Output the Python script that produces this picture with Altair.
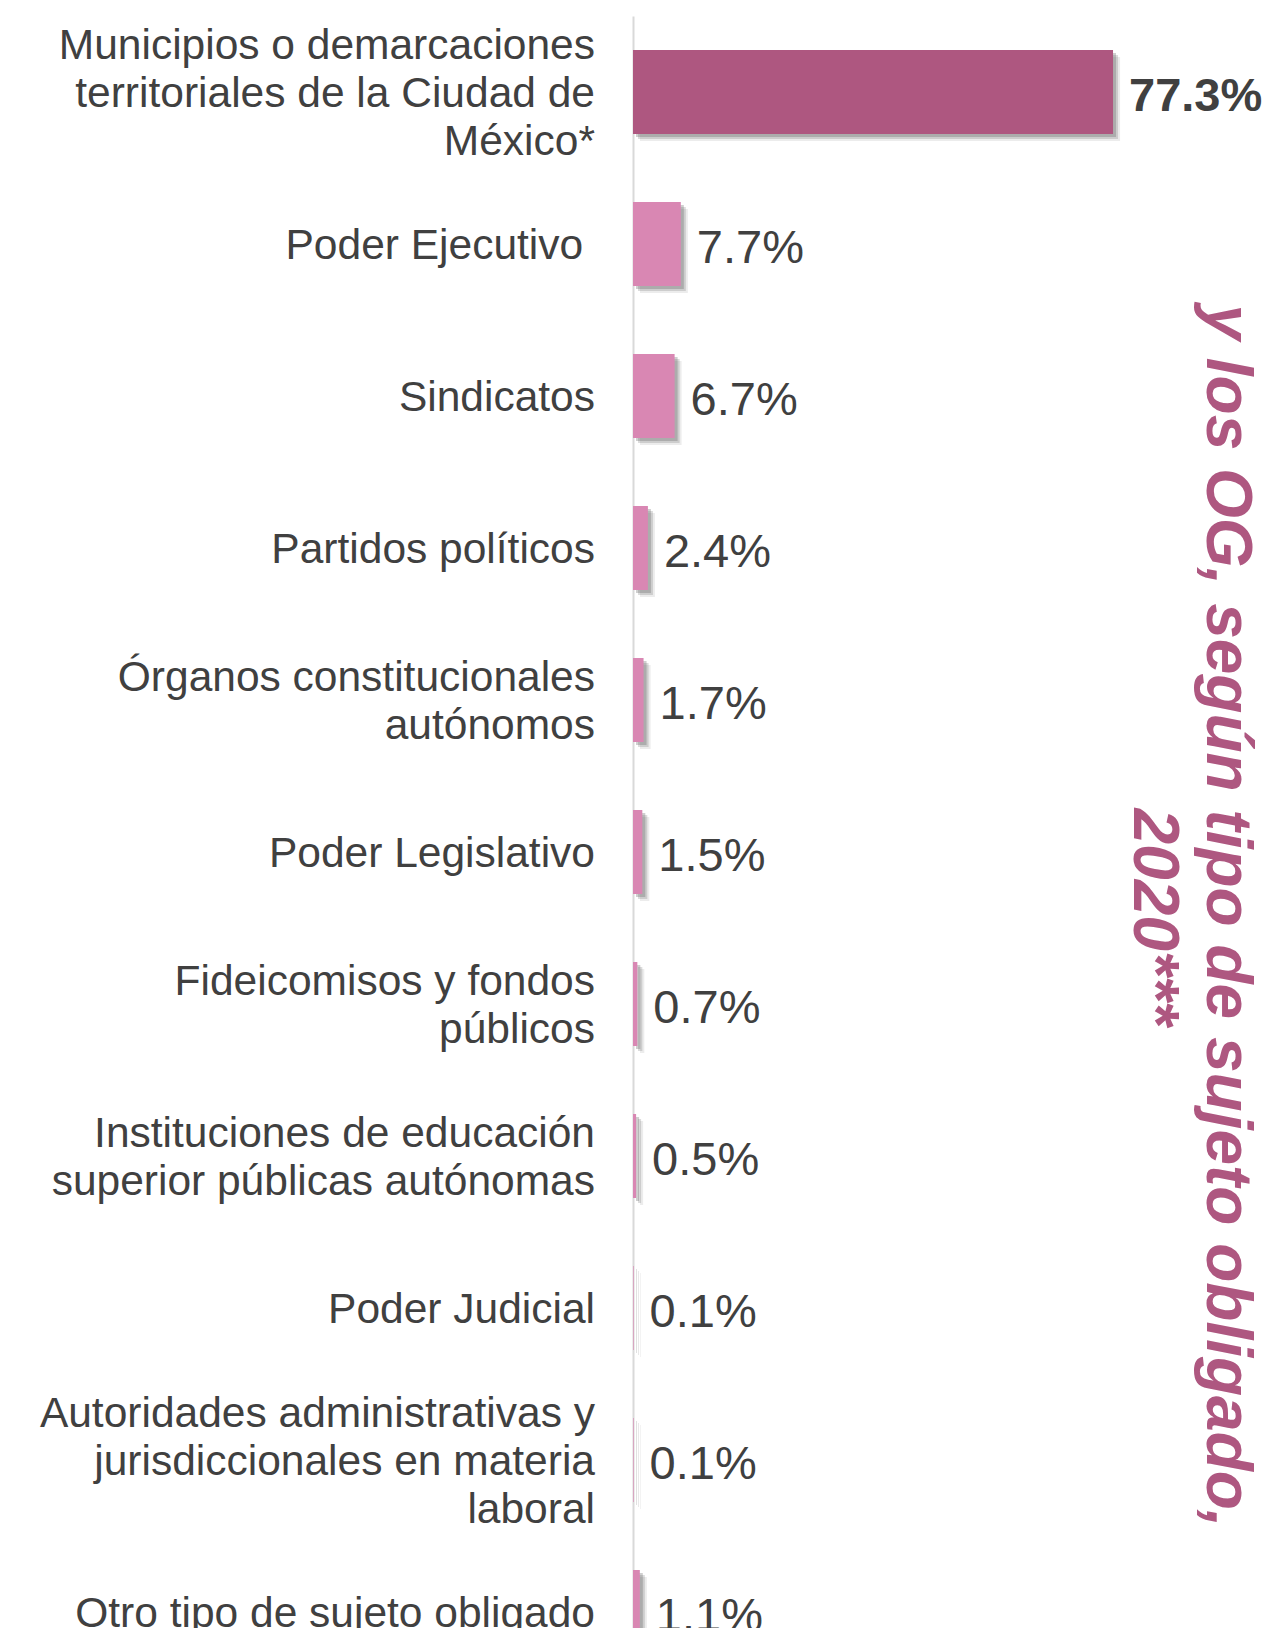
import altair as alt
import pandas as pd

categories = [
    "Municipios o demarcaciones|territoriales de la Ciudad de|México*",
    "Poder Ejecutivo\u00a0\u200b",
    "Sindicatos",
    "Partidos políticos",
    "Órganos constitucionales|autónomos",
    "Poder Legislativo",
    "Fideicomisos y fondos|públicos",
    "Instituciones de educación|superior públicas autónomas",
    "Poder Judicial",
    "Autoridades administrativas y|jurisdiccionales en materia|laboral",
    "Otro tipo de sujeto obligado",
]
values = [77.3, 7.7, 6.7, 2.4, 1.7, 1.5, 0.7, 0.5, 0.1, 0.1, 1.1]
highlight = [True, False, False, False, False, False, False, False, False, False, False]
title_lines = ["y los OG, según tipo de sujeto obligado,", "2020***"]

DARK = "#AE5780"
LIGHT = "#D987B3"
TEXT = "#404040"
FONT = "Liberation Sans"
LH = 48

df = pd.DataFrame({"cat": categories, "value": values, "hl": highlight})

y_enc = alt.Y(
    "cat:N",
    sort=categories,
    scale=alt.Scale(range=[0, 1672], paddingInner=0.447, paddingOuter=0.2235),
    axis=alt.Axis(
        title=None,
        labels=False,
        ticks=False,
        grid=False,
        domain=True,
        domainColor="#D9D9D9",
        domainWidth=2,
    ),
)
x_enc = alt.X("value:Q", scale=alt.Scale(domain=[0, 100]), axis=None)

base = alt.Chart(df)

shadow1 = base.mark_bar(color="#606060", opacity=0.12, xOffset=7, yOffset=7).encode(x=x_enc, y=y_enc)
shadow2 = base.mark_bar(color="#606060", opacity=0.22, xOffset=5, yOffset=5).encode(x=x_enc, y=y_enc)
shadow3 = base.mark_bar(color="#606060", opacity=0.3, xOffset=3, yOffset=3).encode(x=x_enc, y=y_enc)

bars = base.mark_bar().encode(
    x=x_enc,
    y=y_enc,
    color=alt.condition("datum.hl", alt.value(DARK), alt.value(LIGHT)),
)

labels_norm = base.transform_filter("!datum.hl").transform_calculate(
    lab="format(datum.value, '.1f') + '%'"
).mark_text(
    align="left", baseline="middle", dx=16, dy=5, font=FONT, fontSize=47, color=TEXT
).encode(x=x_enc, y=y_enc, text="lab:N")

labels_bold = base.transform_filter("datum.hl").transform_calculate(
    lab="format(datum.value, '.1f') + '%'"
).mark_text(
    align="left", baseline="middle", dx=16, dy=5, font=FONT, fontSize=47,
    fontWeight="bold", color=TEXT
).encode(x=x_enc, y=y_enc, text="lab:N")


def cat_labels(n):
    return base.transform_calculate(
        lines="split(datum.cat, '|')"
    ).transform_calculate(
        n="length(datum.lines)"
    ).transform_filter(f"datum.n == {n}").mark_text(
        align="right", baseline="middle", font=FONT, fontSize=42.5, color=TEXT,
        lineHeight=LH, dy=2 - (n - 1) * LH / 2
    ).encode(x=alt.value(-38), y=y_enc, text="lines:N")


t1 = alt.Chart(pd.DataFrame({"t": [title_lines[0]]})).mark_text(
    angle=90, align="center", baseline="alphabetic", font=FONT, fontSize=64,
    fontWeight="bold", fontStyle="italic", color=DARK
).encode(x=alt.value(574), y=alt.value(900), text="t:N")

t2 = alt.Chart(pd.DataFrame({"t": [title_lines[1]]})).mark_text(
    angle=90, align="center", baseline="alphabetic", font=FONT, fontSize=64,
    fontWeight="bold", fontStyle="italic", color=DARK
).encode(x=alt.value(501), y=alt.value(901), text="t:N")

chart = alt.layer(
    shadow1, shadow2, shadow3, bars, labels_norm, labels_bold,
    cat_labels(1), cat_labels(2), cat_labels(3), t1, t2
).properties(
    width=621,
    height=1612,
    autosize=alt.AutoSizeParams(type="none"),
    padding={"left": 625, "top": 8, "right": 13, "bottom": 0},
).configure_view(stroke=None)

chart.save("out.html", embed_options={"renderer": "svg", "actions": False})
